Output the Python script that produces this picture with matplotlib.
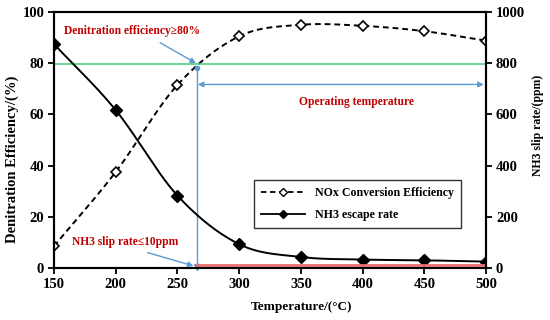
import numpy as np
import matplotlib
matplotlib.use("Agg")
import matplotlib.pyplot as plt

plt.rcParams['font.family'] = ['Liberation Serif', 'DejaVu Serif']
plt.rcParams['font.weight'] = 'bold'

# data
temperature = [150, 200, 250, 300, 350, 400, 450, 500]
nox_efficiency = [8.5, 37.5, 71.5, 90.5, 95.0, 94.6, 92.5, 88.8]   # %
nh3_slip = [875, 617, 283, 93, 43, 33, 30, 25]                      # ppm

x_ticks = [150, 200, 250, 300, 350, 400, 450, 500]
left_ticks = [0, 20, 40, 60, 80, 100]
right_ticks = [0, 200, 400, 600, 800, 1000]

eff_limit = 79.6        # green line, %
slip_limit = 10         # red line, ppm
operating_start = 266   # vertical blue line, deg C


def smooth(xs, ys, n=30):
    # catmull-rom curve through the points, like excel's smoothed line
    xs = np.asarray(xs, float)
    ys = np.asarray(ys, float)
    px = np.concatenate([[2 * xs[0] - xs[1]], xs, [2 * xs[-1] - xs[-2]]])
    py = np.concatenate([[2 * ys[0] - ys[1]], ys, [2 * ys[-1] - ys[-2]]])
    out_x, out_y = [], []
    t = np.linspace(0, 1, n)
    for i in range(1, len(px) - 2):
        for p, out in ((px, out_x), (py, out_y)):
            p0, p1, p2, p3 = p[i - 1], p[i], p[i + 1], p[i + 2]
            out.extend(0.5 * ((2 * p1) + (-p0 + p2) * t
                              + (2 * p0 - 5 * p1 + 4 * p2 - p3) * t ** 2
                              + (-p0 + 3 * p1 - 3 * p2 + p3) * t ** 3))
    return out_x, out_y


fig = plt.figure(figsize=(5.5, 3.2), dpi=100)
ax = fig.add_axes([0.098, 0.1625, 0.786, 0.8])
ax2 = ax.twinx()

red = '#c00000'
blue = '#5b9bd5'

# NOx curve
sx, sy = smooth(temperature, nox_efficiency)
ax.plot(sx, sy, color='black', linestyle=(0, (3, 2)), lw=1.4)
ax.plot(temperature, nox_efficiency, linestyle='none', marker='D', ms=5.5,
        mfc='white', mec='black', mew=1.2)

# NH3 curve
sx, sy = smooth(temperature, nh3_slip)
ax2.plot(sx, sy, color='black', lw=1.4)
ax2.plot(temperature, nh3_slip, linestyle='none', marker='D', ms=6.5,
         color='black')

# reference lines
ax.axhline(eff_limit, color='#50d080', lw=1.2)
ax2.plot([operating_start, 500], [slip_limit, slip_limit], color='#e87070', lw=2)
ax.plot([operating_start, operating_start], [0, eff_limit - 1.5], color=blue, lw=1)
ax.plot(operating_start, eff_limit - 1.5, marker='o', ms=3, color=blue)
ax.plot(operating_start, 0.3, marker='v', ms=5, color=blue, clip_on=False)
ax.annotate('', xy=(operating_start + 0.5, 71.7), xytext=(498, 71.7),
            arrowprops=dict(arrowstyle='<|-|>', color=blue, lw=1,
                            mutation_scale=8, shrinkA=0, shrinkB=0))

ax.annotate('', xy=(265, 80), xytext=(236, 88),
            arrowprops=dict(arrowstyle='-|>', color=blue, lw=1,
                            mutation_scale=8, shrinkA=0, shrinkB=0))
ax.annotate('', xy=(263, 0.8), xytext=(226, 6),
            arrowprops=dict(arrowstyle='-|>', color=blue, lw=1,
                            mutation_scale=8, shrinkA=0, shrinkB=0))

ax.text(158.5, 92.5, 'Denitration efficiency\u226580%', color=red, fontsize=8.3,
        fontweight='bold', ha='left', va='center')
ax.text(164.5, 10.3, 'NH3 slip rate\u226410ppm', color=red, fontsize=8.3,
        fontweight='bold', ha='left', va='center')
ax.text(395, 65, 'Operating temperature', color=red, fontsize=8.3,
        fontweight='bold', ha='center', va='center')

ax.set_xlim(150, 500)
ax.set_ylim(0, 100)
ax2.set_ylim(0, 1000)
ax.set_xticks(x_ticks)
ax.set_yticks(left_ticks)
ax2.set_yticks(right_ticks)

for a in (ax, ax2):
    a.tick_params(direction='out', length=4, width=1.3, labelsize=10.5, pad=3)
    for s in a.spines.values():
        s.set_linewidth(1.5)
    for lab in a.get_xticklabels() + a.get_yticklabels():
        lab.set_fontweight('bold')

ax.set_xlabel('Temperature/(\u00b0C)', fontsize=9.5, fontweight='bold')
ax.xaxis.set_label_coords(0.572, -0.13)
ax.set_ylabel('Denitration Efficiency/(%)', fontsize=10.5, fontweight='bold')
ax.yaxis.set_label_coords(-0.081, 0.426)
ax2.set_ylabel('NH3 slip rate/(ppm)', fontsize=8.5, fontweight='bold')
ax2.yaxis.set_label_coords(1.106, 0.557)

# legend
h1, = ax.plot([], [], color='black', linestyle=(0, (3, 2)), lw=1.3, marker='D',
              ms=4, mfc='white', mec='black')
h2, = ax.plot([], [], color='black', lw=1.3, marker='D', ms=4)
leg = ax.legend([h1, h2], ['NOx Conversion Efficiency', 'NH3 escape rate'],
                loc='lower right', bbox_to_anchor=(0.956, 0.133), fancybox=False,
                edgecolor='black', prop={'weight': 'bold', 'size': 8.6},
                handlelength=3.7, borderpad=0.6, labelspacing=0.8)
leg.get_frame().set_linewidth(1)

fig.savefig('out.png', dpi=100)
